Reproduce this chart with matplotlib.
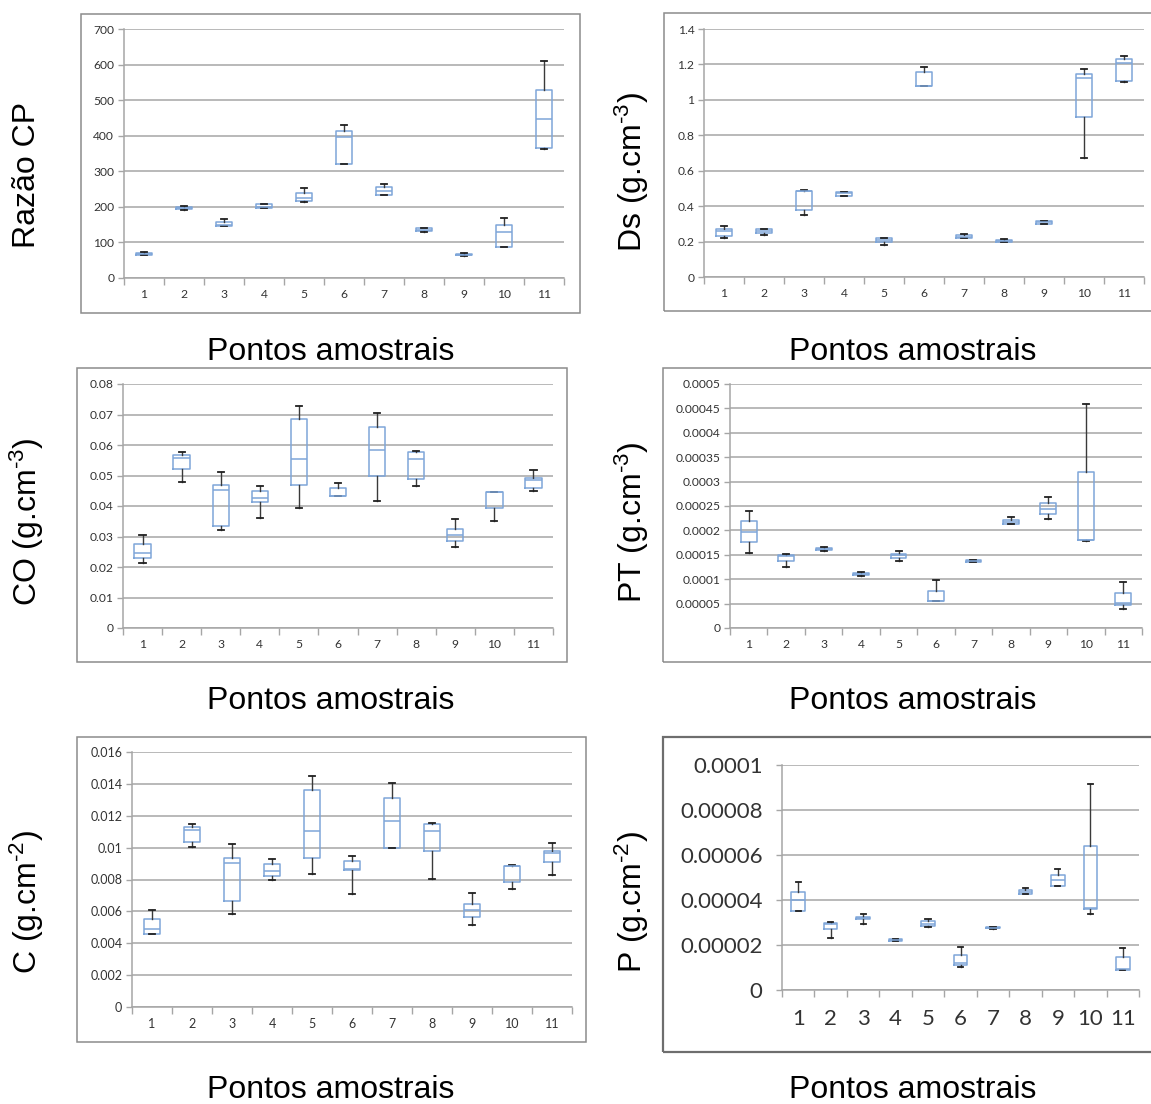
import numpy as np
import matplotlib
matplotlib.use("Agg")
from matplotlib import pyplot as plt
from matplotlib.patches import Rectangle
from matplotlib.ticker import FuncFormatter

plt.rcParams['mathtext.fontset'] = 'custom'
plt.rcParams['mathtext.rm'] = 'Liberation Sans'
plt.rcParams['mathtext.default'] = 'regular'

pontos = ['1', '2', '3', '4', '5', '6', '7', '8', '9', '10', '11']

# (whisker low, q1, median, q3, whisker high) per sampling point
cp_stats = [(65, 66, 68, 70, 72), (191, 193, 197, 200, 202), (146, 147, 150, 157, 165),
            (196, 197, 201, 207, 209), (214, 216, 225, 239, 252), (321, 321, 396, 412, 429),
            (232, 233, 244, 257, 263), (130, 131, 136, 140, 141), (63, 64, 66, 68, 69),
            (87, 88, 129, 148, 169), (364, 365, 447, 528, 609)]
ds_stats = [(0.220, 0.234, 0.258, 0.271, 0.286), (0.236, 0.251, 0.262, 0.269, 0.270),
            (0.350, 0.377, 0.484, 0.488, 0.492), (0.460, 0.460, 0.473, 0.480, 0.481),
            (0.183, 0.196, 0.207, 0.220, 0.221), (1.078, 1.078, 1.081, 1.157, 1.183),
            (0.219, 0.219, 0.228, 0.235, 0.241), (0.200, 0.200, 0.205, 0.211, 0.212),
            (0.301, 0.301, 0.311, 0.317, 0.318), (0.669, 0.904, 1.121, 1.144, 1.172),
            (1.100, 1.106, 1.206, 1.232, 1.247)]
co_stats = [(0.0212, 0.0228, 0.0247, 0.0275, 0.0305), (0.0480, 0.0520, 0.0558, 0.0567, 0.0576),
            (0.0321, 0.0334, 0.0451, 0.0469, 0.0511), (0.0360, 0.0413, 0.0427, 0.0449, 0.0467),
            (0.0393, 0.0469, 0.0554, 0.0685, 0.0729), (0.0433, 0.0433, 0.0434, 0.0460, 0.0475),
            (0.0415, 0.0498, 0.0585, 0.0658, 0.0706), (0.0464, 0.0490, 0.0554, 0.0576, 0.0579),
            (0.0267, 0.0285, 0.0304, 0.0323, 0.0358), (0.0350, 0.0392, 0.0445, 0.0446, 0.0446),
            (0.0449, 0.0458, 0.0485, 0.0492, 0.0517)]
pt_stats = [(0.0001530, 0.0001755, 0.0001967, 0.0002186, 0.0002398),
            (0.0001257, 0.0001366, 0.0001475, 0.0001489, 0.0001523),
            (0.0001585, 0.0001592, 0.0001612, 0.0001639, 0.0001667),
            (0.0001072, 0.0001079, 0.0001100, 0.0001127, 0.0001154),
            (0.0001373, 0.0001428, 0.0001489, 0.0001523, 0.0001578),
            (0.0000546, 0.0000546, 0.0000560, 0.0000765, 0.0000977),
            (0.0001355, 0.0001359, 0.0001380, 0.0001393, 0.0001395),
            (0.0002124, 0.0002138, 0.0002172, 0.0002220, 0.0002281),
            (0.0002240, 0.0002329, 0.0002432, 0.0002555, 0.0002678),
            (0.0001783, 0.0001796, 0.0001810, 0.0003190, 0.0004583),
            (0.0000383, 0.0000464, 0.0000519, 0.0000724, 0.0000936)]
c_stats = [(0.00456, 0.00456, 0.00492, 0.00552, 0.00609), (0.01002, 0.01035, 0.01113, 0.01132, 0.01148),
           (0.00586, 0.00667, 0.00901, 0.00935, 0.01021), (0.00799, 0.00824, 0.00851, 0.00897, 0.00931),
           (0.00832, 0.00935, 0.01106, 0.01364, 0.01452), (0.00709, 0.00862, 0.00866, 0.00916, 0.00947),
           (0.00996, 0.00996, 0.01165, 0.01309, 0.01408), (0.00805, 0.00977, 0.01104, 0.01148, 0.01155),
           (0.00517, 0.00567, 0.00607, 0.00644, 0.00713), (0.00738, 0.00782, 0.00885, 0.00887, 0.00888),
           (0.00828, 0.00912, 0.00966, 0.00981, 0.01029)]
p_stats = [(3.51e-5, 3.51e-5, 3.99e-5, 4.37e-5, 4.80e-5), (2.30e-5, 2.73e-5, 2.93e-5, 2.99e-5, 3.02e-5),
           (2.92e-5, 3.14e-5, 3.20e-5, 3.26e-5, 3.36e-5), (2.16e-5, 2.17e-5, 2.21e-5, 2.25e-5, 2.26e-5),
           (2.81e-5, 2.84e-5, 2.95e-5, 3.07e-5, 3.16e-5), (1.01e-5, 1.11e-5, 1.20e-5, 1.56e-5, 1.91e-5),
           (2.73e-5, 2.74e-5, 2.77e-5, 2.80e-5, 2.81e-5), (4.25e-5, 4.26e-5, 4.36e-5, 4.43e-5, 4.52e-5),
           (4.62e-5, 4.63e-5, 4.87e-5, 5.11e-5, 5.38e-5), (3.39e-5, 3.60e-5, 3.66e-5, 6.39e-5, 9.14e-5),
           (0.87e-5, 0.88e-5, 0.93e-5, 1.45e-5, 1.85e-5)]

W, H = 1151, 1104
fig = plt.figure(figsize=(W / 100, H / 100), dpi=100)

BLUE = '#7ea6d9'
GRID = '#a6a6a6'


def fx(px):
    return px / W


def fy(py):
    return 1 - py / H


def general(v, pos):
    if v == 0:
        return '0'
    return ('%.6f' % v).rstrip('0').rstrip('.')


def panel(stats, ymax, ystep, axbox, frame, ylabel, ylab_xy, xlab_xy,
          tsize=8.7, xpad=8, ypad=3, bold_frame=False):
    l, r, t, b = axbox
    ax = fig.add_axes([fx(l), fy(b), fx(r - l), (b - t) / H])
    bxp_stats = [dict(whislo=s[0], q1=s[1], med=s[2], q3=s[3], whishi=s[4], label=lab)
                 for s, lab in zip(stats, pontos)]
    ax.bxp(bxp_stats, positions=np.arange(1, 12), widths=0.42, capwidths=0.16,
           showfliers=False, patch_artist=False,
           boxprops=dict(color=BLUE, lw=1.1),
           medianprops=dict(color=BLUE, lw=1.1),
           whiskerprops=dict(color='#3a3a3a', lw=1.0),
           capprops=dict(color='#202020', lw=1.3))
    ax.set_xlim(0.5, 11.5)
    ax.set_ylim(0, ymax)
    ax.set_yticks(np.arange(0, ymax + ystep / 2, ystep))
    ax.yaxis.set_major_formatter(FuncFormatter(general))
    ax.set_xticks(np.arange(1, 12))
    ax.set_xticklabels(pontos)
    ax.set_xticks(np.arange(0.5, 12, 1), minor=True)
    ax.tick_params(axis='x', which='major', length=0, pad=xpad,
                   labelsize=tsize, labelcolor='#333333')
    ax.tick_params(axis='x', which='minor', length=5, color=GRID, width=1)
    ax.tick_params(axis='y', length=4, color=GRID, width=1, pad=ypad,
                   labelsize=tsize, labelcolor='#333333')
    for lab in ax.get_xticklabels() + ax.get_yticklabels():
        lab.set_family(['Lato', 'DejaVu Sans'])
    ax.yaxis.grid(True, color=GRID, lw=1.1)
    ax.set_axisbelow(True)
    for side in ('top', 'right'):
        ax.spines[side].set_visible(False)
    for side in ('left', 'bottom'):
        ax.spines[side].set_color(GRID)
        ax.spines[side].set_linewidth(1.1)
    ax.patch.set_alpha(0)

    x0, x1, y0, y1 = frame
    fig.patches.append(Rectangle((fx(x0), fy(y1)), fx(x1 - x0), (y1 - y0) / H,
                                 transform=fig.transFigure, fill=False,
                                 edgecolor='#6e6e6e' if bold_frame else '#8c8c8c',
                                 lw=1.6 if bold_frame else 1.1))
    fig.text(fx(ylab_xy[0]), fy(ylab_xy[1]), ylabel, rotation=90, ha='center', va='center',
             fontsize=23, family='Liberation Sans')
    fig.text(fx(xlab_xy[0]), fy(xlab_xy[1]), 'Pontos amostrais', ha='center', va='center',
             fontsize=23, family='Liberation Sans')
    return ax


panel(cp_stats, 700, 100, (124, 564, 29, 278), (81, 580, 14, 313),
      'Razão CP', (27, 175), (331, 352))
panel(ds_stats, 1.4, 0.2, (704, 1144, 29, 277), (664, 1160, 13, 311),
      r'Ds (g.cm$^{\text{-}3}$)', (632, 172), (913, 352))
panel(co_stats, 0.08, 0.01, (123, 553, 384, 628), (77, 567, 368, 662),
      r'CO (g.cm$^{\text{-}3}$)', (27, 522), (331, 701))
panel(pt_stats, 0.0005, 0.00005, (730, 1142, 384, 628), (663, 1160, 368, 662),
      r'PT (g.cm$^{\text{-}3}$)', (632, 522), (913, 701))
panel(c_stats, 0.016, 0.002, (132, 572, 752, 1007), (77, 586, 737, 1042),
      r'C (g.cm$^{\text{-}2}$)', (27, 902), (331, 1090), tsize=9)
panel(p_stats, 0.0001, 0.00002, (782, 1139, 765, 990), (663, 1160, 737, 1052),
      r'P (g.cm$^{\text{-}2}$)', (632, 902), (913, 1090), tsize=16, xpad=14, ypad=10, bold_frame=True)

fig.savefig('out.png', dpi=100)
